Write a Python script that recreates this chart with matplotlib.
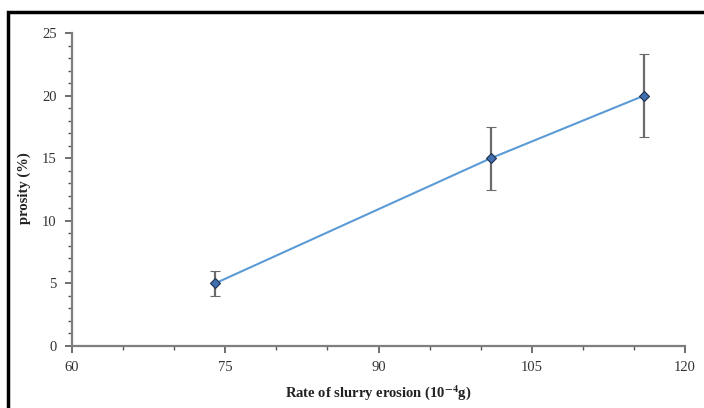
import matplotlib
matplotlib.use("Agg")
import matplotlib.pyplot as plt
from matplotlib.ticker import MultipleLocator
from matplotlib.patches import Rectangle

plt.rcParams['font.family'] = ['Liberation Serif', 'DejaVu Serif']
plt.rcParams['mathtext.fontset'] = 'stix'

erosion_rate = [74, 101, 116]
porosity = [5, 15, 20]
porosity_err = [1.0, 2.5, 3.3]
x_ticks = [60, 75, 90, 105, 120]
y_ticks = [0, 5, 10, 15, 20, 25]

fig = plt.figure(figsize=(7.04, 4.08), dpi=100)
ax_b = 1 - 346/408
ax_h = (346-33)/408
ax = fig.add_axes([72/704, ax_b, (685-72)/704, ax_h])

ax.errorbar(erosion_rate, porosity, yerr=porosity_err, color='#5B9BD5', lw=1.5,
            ecolor='#6b6b6b', elinewidth=1.6, capsize=3.5, capthick=1.4,
            marker='D', ms=5, mfc='#3F6FB0', mec='#1f2f4a', mew=0.8, zorder=3)

ax.set_xlim(60, 120)
ax.set_ylim(0, 25)
ax.set_xticks(x_ticks)
ax.set_yticks(y_ticks)
ax.xaxis.set_minor_locator(MultipleLocator(5))
ax.yaxis.set_minor_locator(MultipleLocator(1))
for s in ['top', 'right']:
    ax.spines[s].set_visible(False)
for s in ['left', 'bottom']:
    ax.spines[s].set_color('#7f7f7f')
    ax.spines[s].set_linewidth(1.6)
ax.tick_params(which='major', direction='out', length=5, width=1.2, color='#555555',
               labelsize=10.5, labelcolor='#333333', pad=6)
ax.tick_params(which='minor', direction='out', length=3, width=1.0, color='#555555')

ax.set_xlabel('Rate of slurry erosion (10$^{\\mathbf{-4}}$g)', fontsize=10.5, color='#222222',
              fontweight='bold')
ax.set_ylabel('prosity (%)', fontsize=10.5, color='#222222', fontweight='bold')
ax.xaxis.set_label_coords(0.5, ((1 - 383/408) - ax_b) / ax_h)
ax.yaxis.set_label_coords((31 - 72)/613, ((1 - 188/408) - ax_b) / ax_h)

fig.patches.append(Rectangle((8/704, -0.1), 1.2, 1-12/408+0.1, transform=fig.transFigure,
                             fill=False, ec='black', lw=2.5))

fig.savefig('out.png', dpi=100)
